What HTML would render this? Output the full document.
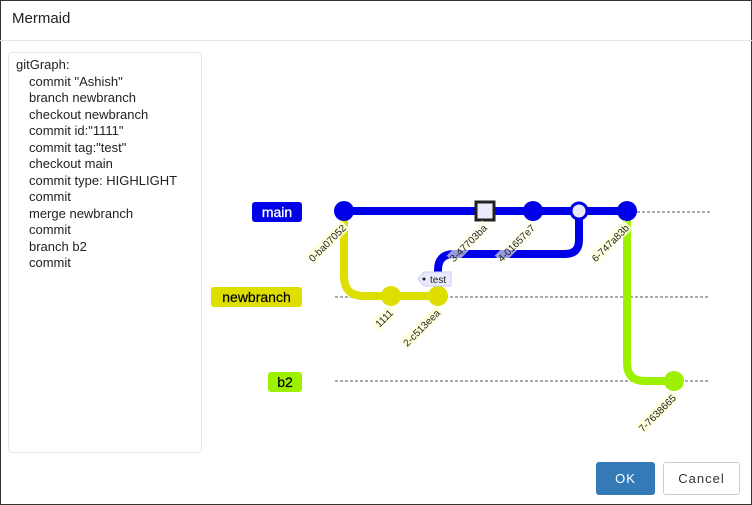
<!DOCTYPE html>
<html><head><style>
body{margin:0;width:752px;height:505px;overflow:hidden;background:#fff;font-family:"Liberation Sans",sans-serif;}
.dlg{position:absolute;left:0;top:0;width:750px;height:503px;border:1px solid #333;}
.hdr{position:absolute;left:12px;top:10px;font-size:15px;color:#222;}
.line{position:absolute;left:0;top:40px;width:752px;height:1px;background:#e5e5e5;}
.ta{position:absolute;left:8px;top:52px;width:194px;height:401px;border:1px solid #e8e8e8;border-radius:4px;font-size:13px;color:#222;line-height:16.5px;padding:4px 0 0 7px;box-sizing:border-box;}
.ta div{padding-left:13px}
.ta div:first-child{padding-left:0}
.ok{position:absolute;left:596px;top:462px;width:59px;height:33px;background:#337ab7;border-radius:3px;color:#fff;font-size:13px;text-align:center;line-height:33px;letter-spacing:1px}
.cc{position:absolute;left:663px;top:462px;width:77px;height:33px;border:1px solid #ccc;border-radius:3px;box-sizing:border-box;color:#333;font-size:13px;text-align:center;line-height:31px;letter-spacing:1px}
svg{position:absolute;left:0;top:0}
</style></head><body>
<div class="dlg"></div>
<div class="hdr">Mermaid</div>
<div class="line"></div>
<div class="ta">
<div>gitGraph:</div><div>commit "Ashish"</div><div>branch newbranch</div><div>checkout newbranch</div><div>commit id:"1111"</div><div>commit tag:"test"</div><div>checkout main</div><div>commit type: HIGHLIGHT</div><div>commit</div><div>merge newbranch</div><div>commit</div><div>branch b2</div><div>commit</div>
</div>
<svg width="752" height="505" font-family="Liberation Sans, sans-serif">
<g stroke="#555" stroke-dasharray="3,2" stroke-width="1">
<line x1="627" y1="212" x2="710" y2="212"/>
<line x1="335" y1="297" x2="710" y2="297"/>
<line x1="335" y1="381" x2="710" y2="381"/>
</g>
<rect x="252" y="202" width="50" height="20" rx="3" fill="#0000e8"/>
<text x="277" y="217" fill="#fff" font-size="14" text-anchor="middle" stroke="#fff" stroke-width="0.3">main</text>
<rect x="211" y="287" width="91" height="20" rx="3" fill="#dede00"/>
<text x="256.5" y="302" fill="#000" font-size="14" text-anchor="middle" stroke="#000" stroke-width="0.2">newbranch</text>
<rect x="268" y="372" width="34" height="20" rx="3" fill="#9cf000"/>
<text x="285" y="387" fill="#000" font-size="14" text-anchor="middle" stroke="#000" stroke-width="0.2">b2</text>
<g fill="none" stroke-width="8">
<path d="M344 211 V276 Q344 296 364 296 H438" stroke="#dede00"/>
<path d="M438 290 V270 Q438 254 454 254 H565 Q579 254 579 240 V211" stroke="#0000e8"/>
<path d="M627 211 V363 Q627 381 645 381 H674" stroke="#9cf000"/>
<path d="M344 211 H627" stroke="#0000e8"/>
</g>
<circle cx="344" cy="211" r="10" fill="#0000e8"/>
<rect x="476" y="202" width="18" height="18" fill="#eaeafa" stroke="#222" stroke-width="3"/>
<circle cx="533" cy="211" r="10" fill="#0000e8"/>
<circle cx="579" cy="211" r="8" fill="#eaeafa" stroke="#0000e8" stroke-width="3"/>
<circle cx="627" cy="211" r="10" fill="#0000e8"/>
<circle cx="391" cy="296" r="10" fill="#dede00"/>
<circle cx="438" cy="296" r="10" fill="#dede00"/>
<circle cx="674" cy="381" r="10" fill="#9cf000"/>
<path d="M418 279 L424 272 H451 V286 H424 Z" fill="#eaeafa" stroke="#ccccff"/>
<circle cx="424" cy="279" r="1.5" fill="#222"/>
<text x="430" y="283" font-size="10" fill="#222">test</text>
<g font-size="10" fill="#222" text-anchor="end">
<g transform="translate(346,228) rotate(-45)"><rect x="-48" y="-9" width="50" height="12" fill="#ffffde" opacity=".9"/><text x="0" y="1">0-ba07052</text></g>
<g transform="translate(487,228) rotate(-45)"><rect x="-48" y="-9" width="50" height="12" fill="#ffffde" opacity=".6"/><text x="0" y="1">3-47703ba</text></g>
<g transform="translate(535,228) rotate(-45)"><rect x="-48" y="-9" width="50" height="12" fill="#ffffde" opacity=".6"/><text x="0" y="1">4-01657e7</text></g>
<g transform="translate(629,228) rotate(-45)"><rect x="-48" y="-9" width="50" height="12" fill="#ffffde" opacity=".9"/><text x="0" y="1">6-747a83b</text></g>
<g transform="translate(393,313) rotate(-45)"><rect x="-23" y="-9" width="25" height="12" fill="#ffffde"/><text x="0" y="1">1111</text></g>
<g transform="translate(440,313) rotate(-45)"><rect x="-48" y="-9" width="50" height="12" fill="#ffffde"/><text x="0" y="1">2-c513eea</text></g>
<g transform="translate(676,398) rotate(-45)"><rect x="-48" y="-9" width="50" height="12" fill="#ffffde"/><text x="0" y="1">7-7638665</text></g>
</g>
</svg>
<div class="ok">OK</div>
<div class="cc">Cancel</div>
</body></html>
